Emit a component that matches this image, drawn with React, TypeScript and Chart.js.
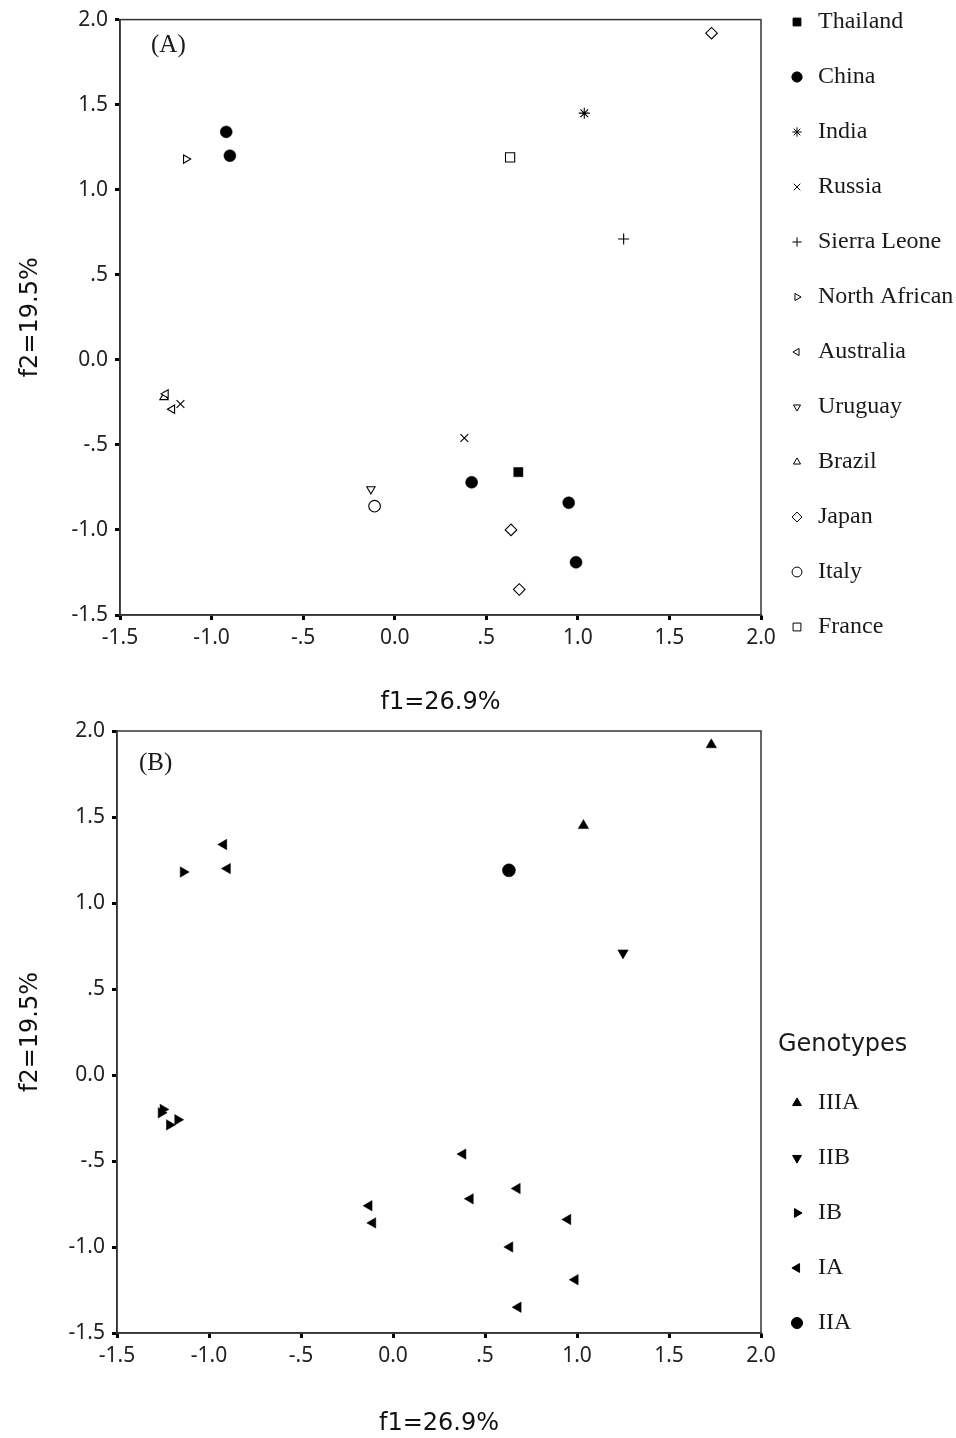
import React, { useEffect, useRef } from 'react';
import { Chart, registerables } from 'chart.js';
import { drawPoint } from 'chart.js/helpers';

Chart.register(...registerables);

// ---------------- data ----------------
const countries = ['Thailand', 'China', 'India', 'Russia', 'Sierra Leone', 'North African', 'Australia', 'Uruguay', 'Brazil', 'Japan', 'Italy', 'France'];
const genotypes = ['IIIA', 'IIB', 'IB', 'IA', 'IIA'];

const sampleCountry = ['Thailand', 'China', 'China', 'China', 'China', 'China', 'India', 'Russia', 'Russia', 'Sierra Leone', 'North African', 'Australia', 'Australia', 'Uruguay', 'Brazil', 'Japan', 'Japan', 'Japan', 'Italy', 'France'];
const sampleF1 = [0.675, -0.92, -0.90, 0.42, 0.95, 0.99, 1.035, 0.38, -1.17, 1.25, -1.14, -1.25, -1.215, -0.13, -1.26, 1.73, 0.635, 0.68, -0.11, 0.63];
const sampleF2 = [-0.66, 1.34, 1.20, -0.72, -0.84, -1.19, 1.45, -0.46, -0.26, 0.71, 1.18, -0.20, -0.29, -0.76, -0.22, 1.92, -1.00, -1.35, -0.86, 1.19];
const sampleGenotype = ['IA', 'IA', 'IA', 'IA', 'IA', 'IA', 'IIIA', 'IA', 'IB', 'IIB', 'IB', 'IB', 'IB', 'IA', 'IB', 'IIIA', 'IA', 'IA', 'IA', 'IIA'];

const xTickLabels = ['-1.5', '-1.0', '-.5', '0.0', '.5', '1.0', '1.5', '2.0'];
const yTickLabels = ['-1.5', '-1.0', '-.5', '0.0', '.5', '1.0', '1.5', '2.0'];
const xTitle = 'f1=26.9%';
const yTitle = 'f2=19.5%';
const legendTitleB = 'Genotypes';
const panelLabels = ['(A)', '(B)'];

// ---------------- styles ----------------
type Mk = { style: string; r: number; rot: number; filled: boolean };
const countryMarkers: Mk[] = [
  { style: 'rect', r: 6.5, rot: 0, filled: true },
  { style: 'circle', r: 6, rot: 0, filled: true },
  { style: 'star', r: 5.5, rot: 0, filled: false },
  { style: 'crossRot', r: 5.5, rot: 0, filled: false },
  { style: 'cross', r: 5.5, rot: 0, filled: false },
  { style: 'triangle', r: 4.8, rot: 90, filled: false },
  { style: 'triangle', r: 4.8, rot: -90, filled: false },
  { style: 'triangle', r: 4.8, rot: 180, filled: false },
  { style: 'triangle', r: 4.8, rot: 0, filled: false },
  { style: 'rectRot', r: 5.8, rot: 0, filled: false },
  { style: 'circle', r: 5.8, rot: 0, filled: false },
  { style: 'rect', r: 6.5, rot: 0, filled: false },
];
const genotypeMarkers: Mk[] = [
  { style: 'triangle', r: 6, rot: 0, filled: true },
  { style: 'triangle', r: 6, rot: 180, filled: true },
  { style: 'triangle', r: 6, rot: 90, filled: true },
  { style: 'triangle', r: 6, rot: -90, filled: true },
  { style: 'circle', r: 6.5, rot: 0, filled: true },
];

const TICK_FONT = { family: '"Noto Sans", "DejaVu Sans", sans-serif', size: 21 };
const TITLE_FONT = { family: '"DejaVu Sans", sans-serif', size: 24 };
const SERIF = '"Liberation Serif", "Times New Roman", serif';

function makeDatasets(groups: string[], markers: Mk[], key: string[]) {
  return groups.map((g, gi) => {
    const m = markers[gi];
    const data = sampleF1
      .map((x, i) => ({ x, y: sampleF2[i], k: key[i] }))
      .filter((p) => p.k === g)
      .map((p) => ({ x: p.x, y: p.y }));
    return {
      label: g,
      data,
      pointStyle: m.style,
      pointRadius: m.r,
      pointRotation: m.rot,
      pointBackgroundColor: m.filled ? '#000' : '#fff',
      pointBorderColor: '#000',
      pointBorderWidth: m.filled ? 0.5 : 1.1,
      showLine: false,
    };
  });
}

type PanelCfg = {
  left: number;
  top: number;
  xTitlePad: number;
  panelLabel: string;
  panelLabelPos: [number, number];
  legendItems: string[];
  legendMarkers: Mk[];
  legendStartY: number;
  legendTitle?: string;
  legendTitleY?: number;
  datasets: any[];
};

function buildChart(canvas: HTMLCanvasElement, cfg: PanelCfg) {
  const overlay = {
    id: 'overlay',
    afterDraw(chart: any) {
      const ctx = chart.ctx as CanvasRenderingContext2D;
      const a = chart.chartArea;
      ctx.save();
      ctx.strokeStyle = '#333';
      ctx.lineWidth = 1.5;
      ctx.strokeRect(a.left, a.top, a.right - a.left, a.bottom - a.top);
      // panel label
      ctx.fillStyle = '#1a1a1a';
      ctx.font = `25px ${SERIF}`;
      ctx.textBaseline = 'middle';
      ctx.textAlign = 'left';
      ctx.fillText(cfg.panelLabel, cfg.panelLabelPos[0], cfg.panelLabelPos[1]);
      // legend
      if (cfg.legendTitle) {
        ctx.font = `24px "DejaVu Sans", sans-serif`;
        ctx.fillText(cfg.legendTitle, 778, cfg.legendTitleY as number);
      }
      cfg.legendItems.forEach((name, i) => {
        const y = cfg.legendStartY + i * 55;
        const m = cfg.legendMarkers[i];
        ctx.fillStyle = m.filled ? '#000' : '#fff';
        ctx.strokeStyle = '#000';
        ctx.lineWidth = 1;
        drawPoint(ctx, { pointStyle: m.style, radius: m.r * 0.85, rotation: m.rot, borderWidth: 1 } as any, 797, y);
        ctx.fillStyle = '#1a1a1a';
        ctx.font = `24px ${SERIF}`;
        ctx.fillText(name, 818, y);
      });
      ctx.restore();
    },
  };

  return new Chart(canvas, {
    type: 'scatter',
    data: { datasets: cfg.datasets },
    options: {
      responsive: false,
      animation: false,
      devicePixelRatio: 1,
      layout: { padding: { left: 0, right: 195, top: cfg.top, bottom: 0 } },
      plugins: { legend: { display: false }, tooltip: { enabled: false } },
      scales: {
        x: {
          type: 'linear',
          min: -1.5,
          max: 2.0,
          afterFit: (s: any) => {
            s.height = 105;
          },
          ticks: {
            stepSize: 0.5,
            color: '#222',
            font: TICK_FONT,
            padding: 5,
            maxRotation: 0,
            autoSkip: false,
            callback: (_v: any, i: number) => xTickLabels[i],
          },
          grid: { display: true, drawOnChartArea: false, drawTicks: true, tickLength: 5, tickWidth: 3, tickColor: '#000' },
          border: { display: true, color: '#333', width: 1.5 },
          title: { display: true, text: xTitle, color: '#111', font: TITLE_FONT, padding: { top: 0, bottom: cfg.xTitlePad } },
        },
        y: {
          type: 'linear',
          min: -1.5,
          max: 2.0,
          afterFit: (s: any) => {
            s.width = cfg.left;
          },
          ticks: {
            stepSize: 0.5,
            color: '#222',
            font: TICK_FONT,
            padding: 7,
            autoSkip: false,
            callback: (_v: any, i: number) => yTickLabels[i],
          },
          grid: { display: true, drawOnChartArea: false, drawTicks: true, tickLength: 5, tickWidth: 3, tickColor: '#000' },
          border: { display: true, color: '#333', width: 1.5 },
          title: { display: true, text: yTitle, color: '#111', font: TITLE_FONT, padding: { top: 16, bottom: 0 } },
        },
      },
    } as any,
    plugins: [overlay],
  });
}

export default function App() {
  const refA = useRef<HTMLCanvasElement>(null);
  const refB = useRef<HTMLCanvasElement>(null);

  useEffect(() => {
    const a = buildChart(refA.current as HTMLCanvasElement, {
      left: 120,
      top: 19,
      xTitlePad: 3,
      panelLabel: panelLabels[0],
      panelLabelPos: [151, 45],
      legendItems: countries,
      legendMarkers: countryMarkers,
      legendStartY: 22,
      datasets: makeDatasets(countries, countryMarkers, sampleCountry),
    });
    const b = buildChart(refB.current as HTMLCanvasElement, {
      left: 117,
      top: 31,
      xTitlePad: 0,
      panelLabel: panelLabels[1],
      panelLabelPos: [139, 63],
      legendItems: genotypes,
      legendMarkers: genotypeMarkers,
      legendStartY: 403,
      legendTitle: legendTitleB,
      legendTitleY: 345,
      datasets: makeDatasets(genotypes, genotypeMarkers, sampleGenotype),
    });
    return () => {
      a.destroy();
      b.destroy();
    };
  }, []);

  return (
    <div style={{ position: 'absolute', left: 0, top: 0, width: 956, height: 1438, background: '#fff' }}>
      <canvas ref={refA} width={956} height={720} style={{ position: 'absolute', left: 0, top: 0, width: 956, height: 720 }} />
      <canvas ref={refB} width={956} height={738} style={{ position: 'absolute', left: 0, top: 700, width: 956, height: 738 }} />
    </div>
  );
}
